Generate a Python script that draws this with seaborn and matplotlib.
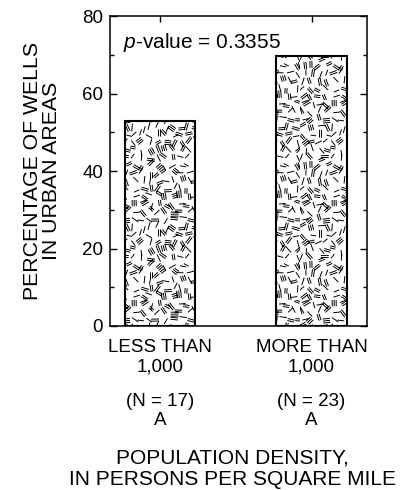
import numpy as np
import pandas as pd
import matplotlib
matplotlib.use("Agg")
import matplotlib.pyplot as plt
import matplotlib.hatch as mhatch
from matplotlib.path import Path
import seaborn as sns

# ---------------- data ----------------
categories = ["LESS THAN\n1,000", "MORE THAN\n1,000"]
pct_urban = [52.9, 69.6]
n_labels = ["(N = 17)\nA", "(N = 23)\nA"]
y_ticks = [0, 20, 40, 60, 80]
p_value_text = "0.3355"


# ---------------- dash texture hatch (decoration only) ----------------
def _h(a, b, s):
    """Small deterministic integer hash -> [0, 1)."""
    x = (a * 374761393 + b * 668265263 + s * 2246822519) & 0xFFFFFFFF
    x = ((x ^ (x >> 13)) * 1274126177) & 0xFFFFFFFF
    x = x ^ (x >> 16)
    return (x & 0xFFFF) / 65536.0


class DashTexture(mhatch.HatchPatternBase):
    n = 13

    def __init__(self, hatch, density):
        self.segs = []
        if hatch.count("*") > 0:
            n = self.n
            for i in range(n):
                for j in range(n):
                    ang = np.pi * _h(i, j, 1)
                    cx = (i + 0.5 + 0.7 * (_h(i, j, 2) - 0.5)) / n
                    cy = (j + 0.5 + 0.7 * (_h(i, j, 3) - 0.5)) / n
                    r = _h(i, j, 4)
                    cnt = 1 if r < 0.45 else (2 if r < 0.85 else 3)
                    L = 0.045 + 0.025 * _h(i, j, 5)
                    d = np.array([np.cos(ang), np.sin(ang)])
                    p = np.array([-d[1], d[0]])
                    for m in range(cnt):
                        off = (m - (cnt - 1) / 2) * 0.02
                        c = np.array([cx, cy]) + p * off
                        a = np.clip(c - d * L / 2, 0, 1)
                        b = np.clip(c + d * L / 2, 0, 1)
                        self.segs.append(a)
                        self.segs.append(b)
        self.num_vertices = len(self.segs)

    def set_vertices_and_codes(self, vertices, codes):
        vertices[:] = np.array(self.segs)
        codes[0::2] = Path.MOVETO
        codes[1::2] = Path.LINETO


mhatch._hatch_types[:] = [t for t in mhatch._hatch_types if t is not mhatch.Stars] + [DashTexture]

# ---------------- style ----------------
sns.set_theme(style="ticks")
plt.rcParams["font.family"] = ["Liberation Sans", "DejaVu Sans"]
plt.rcParams["mathtext.fontset"] = "custom"
plt.rcParams["mathtext.it"] = "Liberation Sans:italic"
plt.rcParams["mathtext.rm"] = "Liberation Sans"
plt.rcParams["hatch.linewidth"] = 0.7
plt.rcParams["hatch.color"] = "black"
for k in ["text.color", "axes.labelcolor", "xtick.color", "ytick.color", "axes.edgecolor"]:
    plt.rcParams[k] = "black"

fig = plt.figure(figsize=(4.09, 4.90), dpi=100)
ax = fig.add_axes([110 / 409, 1 - 326 / 490, 257 / 409, 310 / 490])

df = pd.DataFrame({"density": categories, "pct": pct_urban})
sns.barplot(data=df, x="density", y="pct", ax=ax, color="white",
            edgecolor="black", linewidth=1.5, width=0.467, saturation=1)
for patch in ax.patches:
    patch.set_hatch("*")
    patch.set_facecolor("white")
    patch.set_edgecolor("black")

ax.set_xlim(-0.33, 1.366)
ax.set_ylim(0, 80)
ax.set_yticks(y_ticks)
ax.set_yticks([10, 30, 50, 70], minor=True)
ax.set_xticks(range(len(categories)))
ax.set_xticklabels(categories, fontsize=13.5, linespacing=1.2)
ax.tick_params(axis="y", labelsize=13.5, direction="in", length=5, width=1.0,
               right=True, left=True, pad=5)
ax.tick_params(axis="y", which="minor", direction="in", length=3, width=1.0,
               right=True, left=True)
ax.tick_params(axis="x", direction="in", length=4, width=1.0, top=True,
               bottom=False, pad=9.5)
for s in ax.spines.values():
    s.set_visible(True)
    s.set_linewidth(1.1)
    s.set_color("black")

for i, lab in enumerate(n_labels):
    ax.annotate(lab, xy=(i, 0), xycoords=("data", "axes fraction"),
                xytext=(0, -67), textcoords="offset pixels",
                ha="center", va="top", fontsize=13.5, linespacing=1.15)

ax.text(0.05, 0.897, r"$\it{p}$-value = " + p_value_text, transform=ax.transAxes,
        fontsize=15, ha="left", va="baseline")

ax.set_ylabel("PERCENTAGE OF WELLS\nIN URBAN AREAS", fontsize=15.3, linespacing=0.95)
ax.yaxis.label.set_verticalalignment("center")
ax.yaxis.set_label_coords(-0.265, 0.5)

ax.set_xlabel("POPULATION DENSITY,\nIN PERSONS PER SQUARE MILE", fontsize=15,
              linespacing=1.18)
ax.xaxis.label.set_verticalalignment("top")
ax.xaxis.set_label_coords(0.475, -0.396)

fig.savefig("out.png", dpi=100)
